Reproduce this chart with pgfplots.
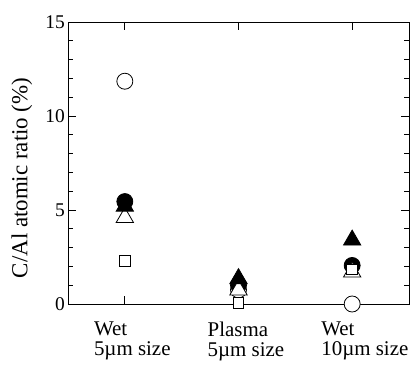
\documentclass[border=0pt]{standalone}
\usepackage{pgfplots}
\pgfplotsset{compat=1.18}
\usepackage{fontspec}
\setmainfont{Liberation Serif}
\begin{document}
\begin{tikzpicture}
\begin{axis}[
  set layers,
  scale only axis,
  width=341bp, height=282bp,
  xmin=0.5, xmax=3.5, ymin=0, ymax=15,
  xtick={1,2,3},
  xticklabels={{Wet\\5\textmu m size},{Plasma\\5\textmu m size},{Wet\\10\textmu m size}},
  xticklabel style={align=left, anchor=north west, inner sep=0pt, xshift=-31bp, yshift=-18bp, font=\fontsize{21}{20}\selectfont},
  ytick={0,5,10,15},
  minor y tick num=4,
  yticklabel style={font=\fontsize{19.5}{20}\selectfont, anchor=east, inner sep=0pt, xshift=-3bp},
  /pgf/number format/assume math mode=true,
  tick align=inside,
  xtick pos=both, ytick pos=both,
  major tick length=8bp, minor tick length=5bp,
  tick style={black, line width=0.7pt},
  axis line style={line width=0.7pt},
  ylabel={C/Al atomic ratio (\%)},
  ylabel style={font=\fontsize{23}{24}\selectfont, at={(axis description cs:-0.135,0.447)}, anchor=center, inner sep=0pt},
  clip=false,
]
% open circle
\addplot[on layer=axis foreground, only marks, mark=*, mark size=8bp, mark options={fill=white, draw=black, line width=0.8pt}] coordinates {(1,11.85) (2,0.75) (3,0)};
% filled circle
\addplot[on layer=axis foreground, only marks, mark=*, mark size=8bp, mark options={fill=black, line width=0.8pt}] coordinates {(1,5.45) (2,1.0) (3,2.05)};
% open triangle
\addplot[on layer=axis foreground, only marks, mark=triangle*, mark size=10bp, mark options={fill=white, draw=black, line width=0.8pt}] coordinates {(1,4.6) (2,0.75) (3,1.7)};
% open square
\addplot[on layer=axis foreground, only marks, mark=square*, mark size=5.3bp, mark options={fill=white, draw=black, line width=0.8pt}] coordinates {(1,2.3) (2,0.05) (3,1.85)};
% filled triangle
\addplot[on layer=axis foreground, only marks, mark=triangle*, mark size=10bp, mark options={fill=black, draw=black, line width=0.8pt}] coordinates {(1,5.2) (2,1.35) (3,3.4)};
\end{axis}
\pgfresetboundingbox
\path (-68bp,-65bp) rectangle (348bp,304bp);
\end{tikzpicture}
\end{document}
